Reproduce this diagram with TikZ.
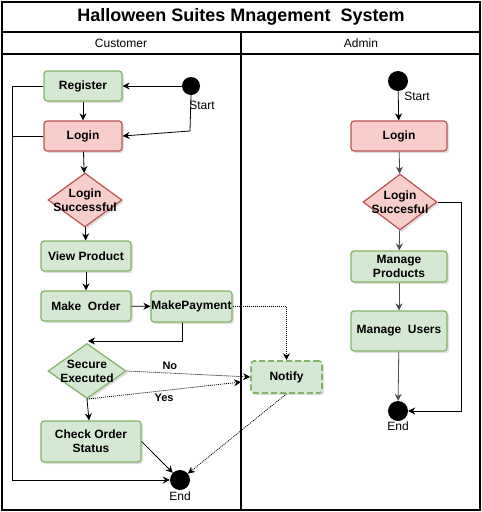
\documentclass[tikz,border=0pt]{standalone}
\usepackage{fontspec}
\setmainfont{Liberation Sans}
\usepackage{xcolor}
\usetikzlibrary{arrows.meta, positioning, shapes.geometric, shadows}

\definecolor{gfill}{HTML}{D5E8D4}
\definecolor{gline}{HTML}{82B366}
\definecolor{rfill}{HTML}{F8CECC}
\definecolor{rline}{HTML}{B85450}

\begin{document}
\begin{tikzpicture}[x=1pt, y=-1pt,
      box/.style={rectangle, rounded corners=3pt, line width=1.2pt, align=center,
        font=\bfseries\fontsize{12}{14}\selectfont, inner sep=0pt,
        drop shadow={opacity=0.25, shadow xshift=2pt, shadow yshift=-2pt}},
      gbox/.style={box, draw=gline, fill=gfill},
      rbox/.style={box, draw=rline, fill=rfill},
      dec/.style={diamond, aspect=1.35, inner sep=0pt, line width=1.2pt,
        drop shadow={opacity=0.25, shadow xshift=2pt, shadow yshift=-2pt}},
      dtext/.style={align=center, font=\bfseries\fontsize{12}{14}\selectfont},
      dot/.style={circle, fill=black, inner sep=0pt, minimum size=#1},
      lbl/.style={font=\fontsize{12}{14}\selectfont, inner sep=0pt},
      arr/.style={-{Stealth[length=7pt, width=7pt]}, line width=0.8pt},
      dots/.style={arr, dash pattern=on 1pt off 1pt},
      lane/.style={line width=1.6pt}
    ]
  \useasboundingbox (0,0) rectangle (482,512);

  % swimlanes
  \draw[lane] (2,2) rectangle (480,510);
  \draw[lane] (2,32) -- (480,32);
  \draw[lane] (2,54) -- (480,54);
  \draw[lane] (241,32) -- (241,510);
  \node[font=\bfseries\fontsize{18}{20}\selectfont] (title) at (241,17) {Halloween Suites Mnagement\ \ System};
  \node[lbl] (cust) at (121,43) {Customer};
  \node[lbl] (adm) at (361,43) {Admin};

  % customer
  \node[dot=18pt] (st1) at (191,86) {};
  \node[lbl] (st1t) at (202,105) {Start};
  \node[gbox, minimum width=78pt, minimum height=30pt] (reg) at (83,86) {Register};
  \node[rbox, minimum width=78pt, minimum height=30pt] (log1) at (83,136) {Login};
  \node[dec, draw=rline, fill=rfill, minimum width=74pt, minimum height=54pt] (ls1) at (85,200) {};
  \node[dtext] (ls1t) at (ls1) {Login\\Successful};
  \node[gbox, minimum width=90pt, minimum height=30pt] (view) at (86,256) {View Product};
  \node[gbox, minimum width=90pt, minimum height=30pt] (order) at (86,306) {Make~ Order};
  \node[gbox, minimum width=81pt, minimum height=31pt] (pay) at (191.5,306.5) {MakePayment};
  \node[dec, draw=gline, fill=gfill, minimum width=78pt, minimum height=55pt] (sec) at (87,371) {};
  \node[dtext] (sect) at (sec) {Secure\\Executed};
  \node[gbox, minimum width=100pt, minimum height=41pt] (chk) at (91,441.5) {Check Order\\Status};
  \node[dot=20pt] (end1) at (180,480) {};
  \node[lbl] (end1t) at (180,496) {End};
  \node[gbox, dash pattern=on 6pt off 3pt, line width=1.6pt, minimum width=71pt, minimum height=32pt] (notify) at (286.5,377) {Notify};

  \coordinate (c1) at (190,131);
  \coordinate (c2) at (88,341);
  \coordinate (c3) at (12,480);
  \coordinate (c4) at (241,382);
  \draw[arr] (st1) -- (reg);
  \draw[arr] (st1.south) -- (c1) -- (log1.east);
  \draw[arr] (reg) -- (log1);
  \draw[arr] (log1) -- (ls1);
  \draw[arr] (ls1) -- (view);
  \draw[arr] (view) -- (order);
  \draw[arr] (order) -- (pay);
  \draw[arr] ([xshift=-9pt]pay.south) |- (c2);
  \draw[arr] (reg.west) -| (c3) -- (end1);
  \draw[line width=0.8pt] (log1.west) -- (log1.west -| c3);
  \draw[dots] (sec.east) -- (notify.west) node[pos=0.35, above, font=\bfseries\fontsize{11}{13}\selectfont] (no) {No};
  \draw[dots] (sec.south) -- (c4) node[pos=0.5, below, font=\bfseries\fontsize{11}{13}\selectfont] (yes) {Yes};
  \draw[arr] (sec.south) -- (chk);
  \draw[dots] (pay.east) -| (notify.north);
  \draw[arr] (chk.east) -- (end1);
  \draw[dots] (notify.south) -- (end1);

  % admin
  \node[dot=20pt] (st2) at (398,81) {};
  \node[lbl] (st2t) at (417,96) {Start};
  \node[rbox, minimum width=96pt, minimum height=30pt] (log2) at (399,136) {Login};
  \node[dec, draw=rline, fill=rfill, minimum width=74pt, minimum height=56pt] (ls2) at (400,202) {};
  \node[dtext] (ls2t) at (ls2) {Login\\Succesful};
  \node[gbox, minimum width=96pt, minimum height=31pt] (mp) at (399,266.5) {Manage\\Products};
  \node[gbox, minimum width=96pt, minimum height=40pt] (mu) at (399,331) {Manage~ Users};
  \node[dot=20pt] (end2) at (398,411) {};
  \node[lbl] (end2t) at (398,426) {End};

  \draw[arr] (st2) -- (log2);
  \draw[arr, black!70] (log2) -- (ls2);
  \draw[arr, black!70] (ls2) -- (mp);
  \draw[arr, black!70] (mp) -- (mu);
  \draw[arr, black!70] (mu) -- (end2);
  \draw[arr] (ls2.east) -- ++(24,0) |- (end2);
\end{tikzpicture}
\end{document}
